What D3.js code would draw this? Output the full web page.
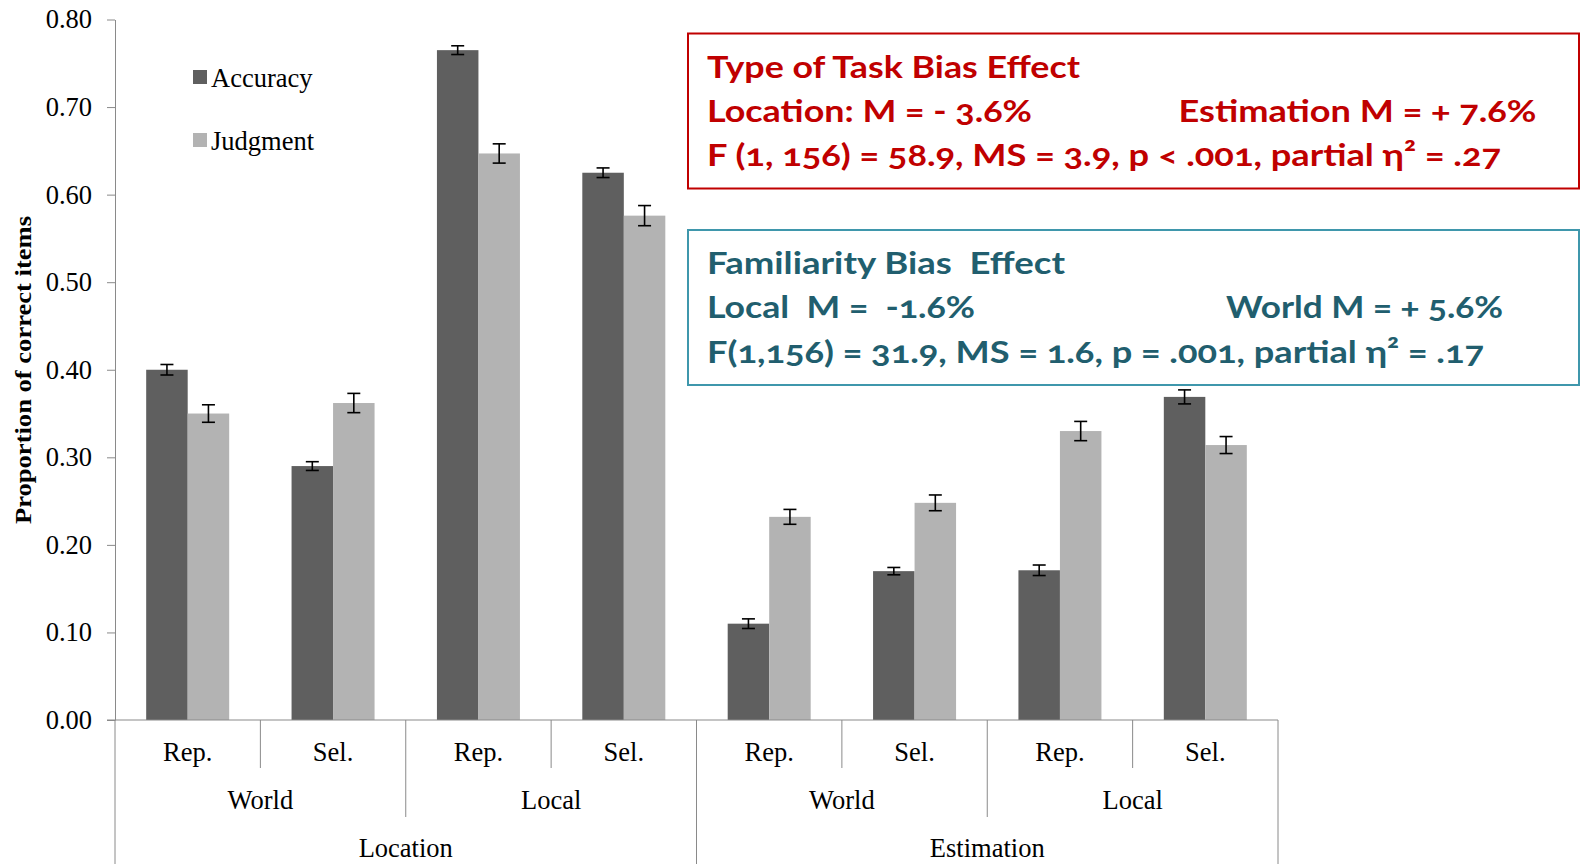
<!DOCTYPE html>
<html>
<head>
<meta charset="utf-8">
<script src="https://cdn.jsdelivr.net/npm/d3@7"></script>
<style>
  body { margin: 0; background: #fff; }
  svg { display: block; }
  .serif { font-family: "Liberation Serif", "Times New Roman", serif; }
  .box text { font-family: Lato, "Open Sans", sans-serif; font-weight: bold; font-feature-settings: "onum" 1; white-space: pre; }
</style>
</head>
<body>
<div id="chart"></div>
<script>
// categories
const conditions = ["Rep.", "Sel.", "Rep.", "Sel.", "Rep.", "Sel.", "Rep.", "Sel."];
const familiarity = ["World", "Local", "World", "Local"];
const tasks = ["Location", "Estimation"];
const seriesNames = ["Accuracy", "Judgment"];

// series values
const accuracy = [0.400, 0.290, 0.765, 0.625, 0.110, 0.170, 0.171, 0.369];
const judgment = [0.350, 0.362, 0.647, 0.576, 0.232, 0.248, 0.330, 0.314];
const accuracyErr = [0.006, 0.005, 0.005, 0.0055, 0.0055, 0.0042, 0.006, 0.008];
const judgmentErr = [0.010, 0.011, 0.011, 0.0115, 0.0085, 0.009, 0.011, 0.0097];

// tick labels
const yTicks = [0, 0.1, 0.2, 0.3, 0.4, 0.5, 0.6, 0.7, 0.8];

const W = 1589, H = 864;
const plotLeft = 115, plotRight = 1278, plotTop = 19.5, plotBottom = 720;
const colors = ["#5f5f5f", "#b3b3b3"];
const axisColor = "#8a8a8a";
const fs = "26.5px";

const svg = d3.select("#chart").append("svg")
  .attr("width", W).attr("height", H);

const y = d3.scaleLinear().domain([0, 0.8]).range([plotBottom, plotTop]);
const x = d3.scaleBand().domain(d3.range(conditions.length)).range([plotLeft, plotRight]);
const xs = d3.scaleBand().domain(seriesNames).range([0, 83]);

// y axis
const yAxis = svg.append("g")
  .attr("class", "serif")
  .attr("transform", `translate(${plotLeft},0)`)
  .call(d3.axisLeft(y).tickValues(yTicks).tickFormat(d3.format(".2f")).tickSize(8).tickSizeOuter(0).tickPadding(15));
yAxis.attr("font-family", null).attr("font-size", null);
yAxis.select(".domain").attr("stroke", axisColor);
yAxis.selectAll(".tick line").attr("stroke", axisColor);
yAxis.selectAll(".tick text").attr("fill", "#000").style("font-size", fs);

svg.append("text")
  .attr("class", "serif")
  .attr("transform", "translate(31,370) rotate(-90)")
  .attr("text-anchor", "middle")
  .attr("textLength", 308).attr("lengthAdjust", "spacingAndGlyphs")
  .style("font-size", "24px").style("font-weight", "bold")
  .text("Proportion of correct items");

// bars
const rows = conditions.map((c, i) => ({
  i,
  vals: [
    { s: "Accuracy", v: accuracy[i], e: accuracyErr[i] },
    { s: "Judgment", v: judgment[i], e: judgmentErr[i] }
  ]
}));

const groups = svg.append("g").selectAll("g").data(rows).join("g")
  .attr("transform", d => `translate(${x(d.i) + (x.bandwidth() - 83) / 2},0)`);

groups.selectAll("rect").data(d => d.vals).join("rect")
  .attr("x", d => xs(d.s))
  .attr("width", xs.bandwidth())
  .attr("y", d => y(d.v))
  .attr("height", d => y(0) - y(d.v))
  .attr("fill", (d, j) => colors[j]);

const eb = groups.selectAll("g.err").data(d => d.vals).join("g").attr("class", "err")
  .attr("stroke", "#000").attr("stroke-width", 1.6);
eb.append("line")
  .attr("x1", d => xs(d.s) + xs.bandwidth() / 2).attr("x2", d => xs(d.s) + xs.bandwidth() / 2)
  .attr("y1", d => y(d.v + d.e)).attr("y2", d => y(d.v - d.e));
[1, -1].forEach(sg => {
  eb.append("line")
    .attr("x1", d => xs(d.s) + xs.bandwidth() / 2 - 6.5).attr("x2", d => xs(d.s) + xs.bandwidth() / 2 + 6.5)
    .attr("y1", d => y(d.v + sg * d.e)).attr("y2", d => y(d.v + sg * d.e));
});

// x axis, three tiers
const xa = svg.append("g").attr("stroke", axisColor).attr("stroke-width", 1);
xa.append("line").attr("x1", plotLeft - 8).attr("x2", plotRight).attr("y1", plotBottom).attr("y2", plotBottom);
const tierEnd = [768, 817, H];
d3.range(conditions.length + 1).forEach(k => {
  const px = k === conditions.length ? plotRight : x(k);
  let lvl = 0;
  if (k % 2 === 0) lvl = 1;
  if (k % 4 === 0) lvl = 2;
  xa.append("line").attr("x1", px).attr("x2", px).attr("y1", plotBottom).attr("y2", tierEnd[lvl]);
});

const lab = svg.append("g").attr("class", "serif").attr("text-anchor", "middle").style("font-size", fs);
lab.selectAll("text.c").data(conditions).join("text").attr("class", "c")
  .attr("x", (d, i) => x(i) + x.bandwidth() / 2).attr("y", 761).text(d => d);
lab.selectAll("text.f").data(familiarity).join("text").attr("class", "f")
  .attr("x", (d, i) => x(i * 2) + x.bandwidth()).attr("y", 809).text(d => d);
lab.selectAll("text.t").data(tasks).join("text").attr("class", "t")
  .attr("x", (d, i) => x(i * 4) + x.bandwidth() * 2).attr("y", 857).text(d => d);

// legend
const leg = svg.append("g").attr("class", "serif");
seriesNames.forEach((s, j) => {
  const ly = 70 + j * 63;
  leg.append("rect").attr("x", 193).attr("y", ly).attr("width", 14).attr("height", 14).attr("fill", colors[j]);
  leg.append("text").attr("x", 211).attr("y", ly + 17).style("font-size", fs).text(s);
});

// annotation boxes
function box(y0, h, stroke, fill, lines) {
  const g = svg.append("g").attr("class", "box");
  g.append("rect").attr("x", 688).attr("y", y0).attr("width", 891).attr("height", h)
    .attr("fill", "none").attr("stroke", stroke).attr("stroke-width", 2);
  lines.forEach(l => {
    g.append("text").attr("x", l.x).attr("y", l.y).attr("fill", fill)
      .style("font-size", "31px")
      .attr("textLength", l.w).attr("lengthAdjust", "spacingAndGlyphs")
      .text(l.t);
  });
}
box(33.5, 155, "#c00000", "#c00000", [
  { x: 707, y: 78, w: 373, t: "Type of Task Bias Effect" },
  { x: 707, y: 122, w: 325, t: "Location: M = - 3.6%" },
  { x: 1178.5, y: 122, w: 358, t: "Estimation M = + 7.6%" },
  { x: 707, y: 166, w: 794, t: "F (1, 156) = 58.9, MS = 3.9, p < .001, partial η² = .27" }
]);
box(230, 155, "#3f97ac", "#215e6e", [
  { x: 707, y: 273.5, w: 358, t: "Familiarity Bias  Effect" },
  { x: 707, y: 318, w: 268, t: "Local  M =  -1.6%" },
  { x: 1226, y: 318, w: 277, t: "World M = + 5.6%" },
  { x: 707, y: 363, w: 777, t: "F(1,156) = 31.9, MS = 1.6, p = .001, partial η² = .17" }
]);
</script>
</body>
</html>
